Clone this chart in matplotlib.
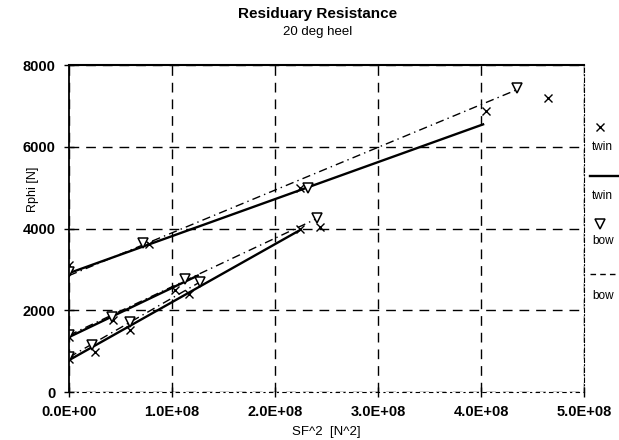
import numpy as np
import matplotlib
matplotlib.use('Agg')
import matplotlib.pyplot as plt
from matplotlib.lines import Line2D
from matplotlib.ticker import FuncFormatter

plt.rcParams['font.family'] = ['Liberation Sans', 'DejaVu Sans']

up_twin_x = [0, 0.78e8, 2.24e8, 4.05e8, 4.65e8]
up_twin_y = [3120, 3620, 5000, 6880, 7200]
up_bow_x = [0, 0.72e8, 2.32e8, 4.35e8]
up_bow_y = [2930, 3640, 5000, 7450]

mid_twin_x = [0, 0.43e8, 1.03e8, 2.44e8]
mid_twin_y = [1350, 1760, 2490, 4050]
mid_bow_x = [0, 0.42e8, 1.13e8, 2.41e8]
mid_bow_y = [1390, 1830, 2760, 4250]

low_twin_x = [0, 0.25e8, 0.59e8, 1.16e8, 2.24e8]
low_twin_y = [800, 980, 1510, 2400, 3985]
low_bow_x = [0, 0.22e8, 0.59e8, 1.27e8]
low_bow_y = [850, 1150, 1710, 2690]

# Droites de tendance (extremites lues)
up_twin_line_x = [0, 4.02e8]
up_twin_line_y = [2910, 6550]
up_bow_line_x = [0, 4.35e8]
up_bow_line_y = [2850, 7400]
mid_twin_line_x = [0, 1.25e8]
mid_twin_line_y = [1345, 2850]
mid_bow_line_x = [0, 2.41e8]
mid_bow_line_y = [1390, 4250]
low_twin_line_x = [0, 2.24e8]
low_twin_line_y = [780, 3960]
low_bow_line_x = [0, 1.27e8]
low_bow_line_y = [850, 2690]

x_ticks = [0, 1e8, 2e8, 3e8, 4e8, 5e8]
y_ticks = [0, 2000, 4000, 6000, 8000]

fig = plt.figure(figsize=(6.19, 4.40), dpi=100)
ax = fig.add_axes([0.1115, 0.109, 0.832, 0.743])

twin_style = dict(color='black', linestyle='-', linewidth=1.7)
bow_style = dict(color='black', linestyle=(0, (6, 3, 1, 3)), linewidth=1.0)
cross_style = dict(color='black', linestyle='none', marker='x', markersize=6, markeredgewidth=1.0)
tri_style = dict(linestyle='none', marker='v', markersize=7, markerfacecolor='white',
                 markeredgecolor='black', markeredgewidth=1.1)

for lx, ly in [(up_twin_line_x, up_twin_line_y), (mid_twin_line_x, mid_twin_line_y),
               (low_twin_line_x, low_twin_line_y)]:
    ax.plot(lx, ly, **twin_style)
for lx, ly in [(up_bow_line_x, up_bow_line_y), (mid_bow_line_x, mid_bow_line_y),
               (low_bow_line_x, low_bow_line_y)]:
    ax.plot(lx, ly, **bow_style)
for px, py in [(up_twin_x, up_twin_y), (mid_twin_x, mid_twin_y), (low_twin_x, low_twin_y)]:
    ax.plot(px, py, **cross_style)
for px, py in [(up_bow_x, up_bow_y), (mid_bow_x, mid_bow_y), (low_bow_x, low_bow_y)]:
    ax.plot(px, py, **tri_style)

ax.set_xlim(0, 5e8)
ax.set_ylim(0, 8000)
ax.set_xticks(x_ticks)
ax.set_yticks(y_ticks)
ax.xaxis.set_major_formatter(FuncFormatter(lambda v, p: '%.1fE+%02d' % (v / 1e8, 8) if v else '0.0E+00'))
ax.tick_params(direction='inout', length=7, width=1.0, labelsize=10.5, pad=6)
for lab in ax.get_xticklabels() + ax.get_yticklabels():
    lab.set_fontweight('bold')

ax.grid(True, color='black', linestyle=(0, (7, 5)), linewidth=1.0)
ax.spines['left'].set_linewidth(1.3)
ax.spines['top'].set_linewidth(1.5)
ax.spines['right'].set_linestyle((0, (4, 2, 1, 2)))
ax.spines['right'].set_linewidth(0.8)
ax.spines['bottom'].set_linestyle((0, (3, 4, 1, 4)))
ax.spines['bottom'].set_linewidth(0.8)

ax.set_ylabel('Rphi [N]', fontsize=9)
ax.yaxis.set_label_coords(-0.058, 0.62)
ax.set_xlabel('SF^2  [N^2]', fontsize=9.5)
ax.xaxis.set_label_coords(0.5, -0.105)

fig.text(0.513, 0.968, 'Residuary Resistance', ha='center', va='center', fontsize=11, fontweight='bold')
fig.text(0.513, 0.928, '20 deg heel', ha='center', va='center', fontsize=9.5)

# Legende manuelle a droite
def fy(py):
    return 1 - py / 440.0

fig.add_artist(Line2D([600 / 619], [fy(127)], transform=fig.transFigure, **cross_style))
fig.text(592 / 619, fy(147), 'twin', fontsize=8.5, va='center')
fig.add_artist(Line2D([590 / 619, 619 / 619], [fy(176), fy(176)], transform=fig.transFigure, **twin_style))
fig.text(592 / 619, fy(196), 'twin', fontsize=8.5, va='center')
fig.add_artist(Line2D([600 / 619], [fy(224)], transform=fig.transFigure, **tri_style))
fig.text(592 / 619, fy(241), 'bow', fontsize=8.5, va='center')
fig.add_artist(Line2D([590 / 619, 619 / 619], [fy(274), fy(274)], transform=fig.transFigure,
                      color='black', linestyle=(0, (4, 3)), linewidth=1.0))
fig.text(592 / 619, fy(296), 'bow', fontsize=8.5, va='center')

fig.savefig('out.png', dpi=100)
